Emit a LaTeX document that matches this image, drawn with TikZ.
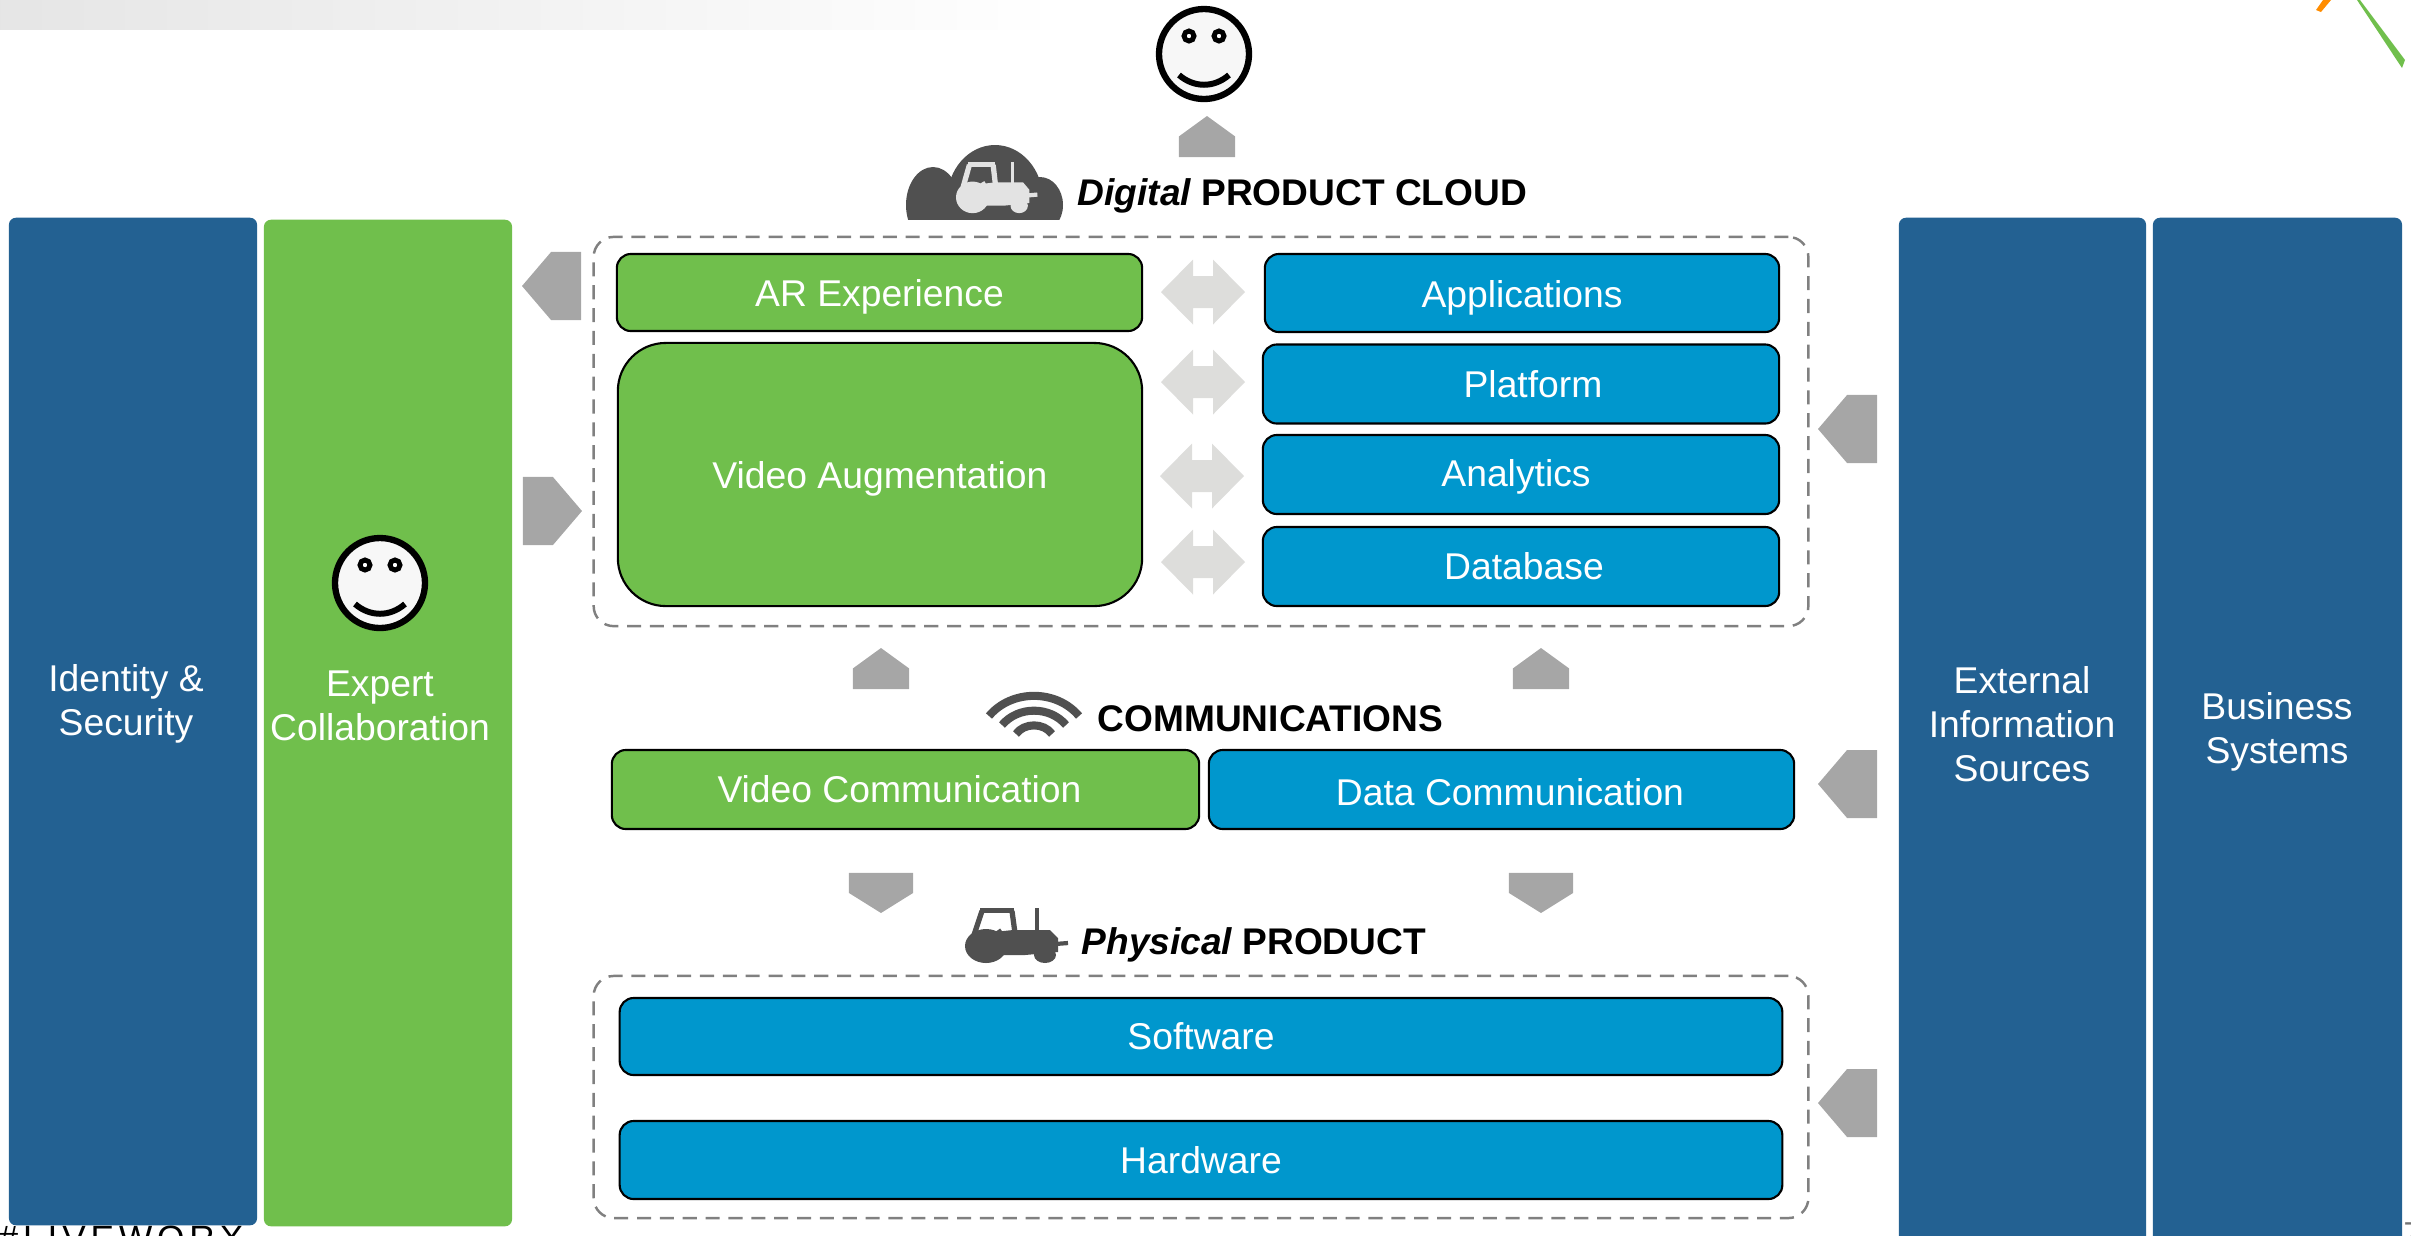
\documentclass[tikz,border=0pt]{standalone}
\usepackage{fontspec}
\setmainfont{Liberation Sans}
\newfontfamily\spacedfont[LetterSpace=14]{Liberation Sans}
\usetikzlibrary{shapes.arrows}
\definecolor{ptcgreen}{HTML}{70BF4C}
\definecolor{ptcblue}{HTML}{0097CD}
\definecolor{ptcnavy}{HTML}{236192}
\definecolor{arrowgray}{HTML}{A6A6A6}
\definecolor{dblgray}{HTML}{DDDDDB}
\definecolor{icongray}{HTML}{505050}
\newcommand{\lowertext}[2]{\raisebox{-#1}[\height][\depth]{#2}}
\tikzset{
  pics/smiley/.style={code={
    \draw[black,fill=black!3,line width=1.8pt] (0,0) circle [radius=45];
    \draw[black,fill=white,line width=1.4pt] (-15,-18) circle [radius=5];
    \draw[black,fill=white,line width=1.4pt] (15,-18) circle [radius=5];
    \draw[black,line width=1.7pt] (-25,21) .. controls (-10,34) and (10,34) .. (25,21);
  }},
  pics/tractor/.style={code={
    \fill[#1] (21,38) circle [x radius=21,y radius=17];
    \fill[#1] (80,47) circle [x radius=11,y radius=8];
    \fill[#1] (10,26) -- (48,22) -- (85,22) -- (93,30) -- (93,44) -- (60,47) -- (30,47) -- cycle;
    \fill[#1] (70,0) rectangle (74,24);
    \fill[#1] (15,0) rectangle (49,5);
    \draw[#1,line width=1.5pt] (17,3) -- (9,27) (47,3) -- (50,25) (33,22) -- (42,35);
    \draw[#1,line width=1.2pt] (90,36) -- (103,35);
  }},
  pics/dblblock/.style={code={
    \fill[dblgray] (-42,0) -- (-10,-32.5) -- (-10,-16) -- (10,-16) -- (10,-32.5) -- (42,0)
      -- (10,32.5) -- (10,16) -- (-10,16) -- (-10,32.5) -- cycle;
  }}
}
\begin{document}
\begin{tikzpicture}[x=0.01cm,y=-0.01cm,
  box/.style={rectangle,draw=black,line width=0.6pt,rounded corners=0.14cm,inner sep=0pt,text=white,
    font=\fontsize{10.6}{12.6}\selectfont},
  greenbox/.style={box,fill=ptcgreen},
  bluebox/.style={box,fill=ptcblue},
  column/.style={rectangle,rounded corners=0.07cm,inner sep=0pt},
  coltext/.style={inner sep=0pt,align=center,text=white,font=\fontsize{10.6}{12.6}\selectfont},
  dashbox/.style={rectangle,draw=black!50,line width=0.7pt,dash pattern=on 4pt off 2.5pt,rounded corners=0.2cm,inner sep=0pt},
  head/.style={inner sep=0pt,font=\fontsize{10.55}{13}\selectfont\bfseries},
  block/.style={single arrow,fill=arrowgray,inner xsep=0pt,outer sep=0pt,single arrow head extend=0pt,anchor=tip},
  sideblock/.style={block,inner ysep=0.285cm,minimum height=0.59cm,minimum width=0.68cm,single arrow tip angle=99},
  upblock/.style={block,rotate=90,inner ysep=0.235cm,minimum height=0.41cm,minimum width=0.56cm,single arrow tip angle=108},
  downblock/.style={block,rotate=-90,inner ysep=0.26cm,minimum height=0.40cm,minimum width=0.64cm,single arrow tip angle=116}]

  \useasboundingbox (0,0) rectangle (2411,1235);

  \shade[left color=black!10,right color=white] (0,0) rectangle (1060,29);
  \fill[orange!90!yellow] (2323,0) -- (2331,0) -- (2321,12) -- (2316,10) -- cycle;
  \fill[ptcgreen] (2357,0) -- (2360,0) -- (2405,60) -- (2402,68) -- cycle;
  \node[inner sep=0pt,anchor=base west,font=\fontsize{10}{12}\spacedfont] (liveworx) at (-2,1250) {\#LIVEWORX};
  \node[inner sep=0pt,anchor=base west,text=black!55,font=\fontsize{9}{12}\selectfont] (pagenum) at (2403,1244) {7};

  \node[column,fill=ptcnavy,minimum width=2.48cm,minimum height=10.07cm] (identity) at (133,721.5) {};
  \node[coltext] (identitytext) at (126,704) {Identity \&\\Security};
  \node[column,fill=ptcgreen,minimum width=2.48cm,minimum height=10.06cm] (expert) at (388,723) {};
  \node[coltext] (experttext) at (380,706) {Expert\\Collaboration};
  \pic at (380,583) {smiley};
  \node[column,fill=ptcnavy,minimum width=2.47cm,minimum height=10.4cm] (external) at (2022.5,738) {};
  \node[coltext] (externaltext) at (2022,724) {External\\Information\\Sources};
  \node[column,fill=ptcnavy,minimum width=2.49cm,minimum height=10.4cm] (business) at (2277.5,738) {};
  \node[coltext] (businesstext) at (2277,732) {Business\\Systems};

  \pic at (1204,54) {smiley};
  \node[upblock] (topup) at (1207,116) {};

  \begin{scope}
    \clip (900,140) rectangle (1070,219);
    \fill[icongray] (933,205) circle [x radius=27,y radius=38];
    \fill[icongray] (995,200) circle [x radius=48,y radius=55];
    \fill[icongray] (1040,205) circle [x radius=23,y radius=28];
  \end{scope}
  \pic[xscale=0.79,yscale=0.93] at (956,162) {tractor=black!11};
  \node[head,anchor=west] (digitalhead) at (1077,196) {{\itshape Digital} PRODUCT CLOUD};

  \node[dashbox,minimum width=12.14cm,minimum height=3.89cm] (digital) at (1201,431.5) {};
  \node[greenbox,minimum width=5.25cm,minimum height=0.77cm] (ar) at (879.5,292.5) {\lowertext{0.045cm}{AR Experience}};
  \node[greenbox,rounded corners=0.48cm,minimum width=5.24cm,minimum height=2.63cm] (videoaug) at (880,474.5) {\lowertext{0.045cm}{Video Augmentation}};
  \node[bluebox,minimum width=5.14cm,minimum height=0.78cm] (apps) at (1522,293) {\lowertext{0.045cm}{Applications}};
  \node[bluebox,minimum width=5.16cm,minimum height=0.79cm] (platform) at (1521,384) {\hspace*{0.24cm}Platform};
  \node[bluebox,minimum width=5.16cm,minimum height=0.79cm] (analytics) at (1521,474.5) {\hspace*{-0.1cm}\lowertext{0.02cm}{Analytics}};
  \node[bluebox,minimum width=5.16cm,minimum height=0.79cm] (database) at (1521,566.5) {\hspace*{0.06cm}Database};

  \pic at (1203,292) {dblblock};
  \pic at (1203,382) {dblblock};
  \pic at (1202,476) {dblblock};
  \pic at (1203,562) {dblblock};

  \node[sideblock,rotate=180] (arout) at (522,286) {};
  \node[sideblock] (expertin) at (582,511) {};
  \node[sideblock,rotate=180] (extin1) at (1818,429) {};
  \node[sideblock,rotate=180] (extin2) at (1818,784) {};
  \node[sideblock,rotate=180] (extin3) at (1818,1103) {};

  \node[upblock] (videoup) at (881,648) {};
  \node[upblock] (dataup) at (1541,648) {};

  \draw[icongray,line width=2.3pt] (989,716) to[bend left=50] (1079,716);
  \draw[icongray,line width=2.3pt] (1002,725) to[bend left=50] (1066,725);
  \draw[icongray,line width=2.3pt] (1016,734) to[bend left=55] (1052,734);
  \node[head,anchor=west] (commhead) at (1097,719) {COMMUNICATIONS};

  \node[greenbox,minimum width=5.87cm,minimum height=0.79cm] (videocomm) at (905.5,789.5) {\hspace*{-0.12cm}Video Communication};
  \node[bluebox,minimum width=5.85cm,minimum height=0.79cm] (datacomm) at (1501.5,789.5) {\hspace*{0.17cm}\lowertext{0.03cm}{Data Communication}};

  \node[downblock] (videodown) at (881,913) {};
  \node[downblock] (datadown) at (1541,913) {};

  \pic at (965,908) {tractor=icongray};
  \node[head,anchor=west] (physicalhead) at (1081,945) {{\itshape Physical} PRODUCT};

  \node[dashbox,minimum width=12.14cm,minimum height=2.42cm] (physical) at (1201,1097) {};
  \node[bluebox,minimum width=11.62cm,minimum height=0.77cm] (software) at (1201,1036.5) {Software};
  \node[bluebox,minimum width=11.62cm,minimum height=0.78cm] (hardware) at (1201,1160) {Hardware};

\end{tikzpicture}
\end{document}
